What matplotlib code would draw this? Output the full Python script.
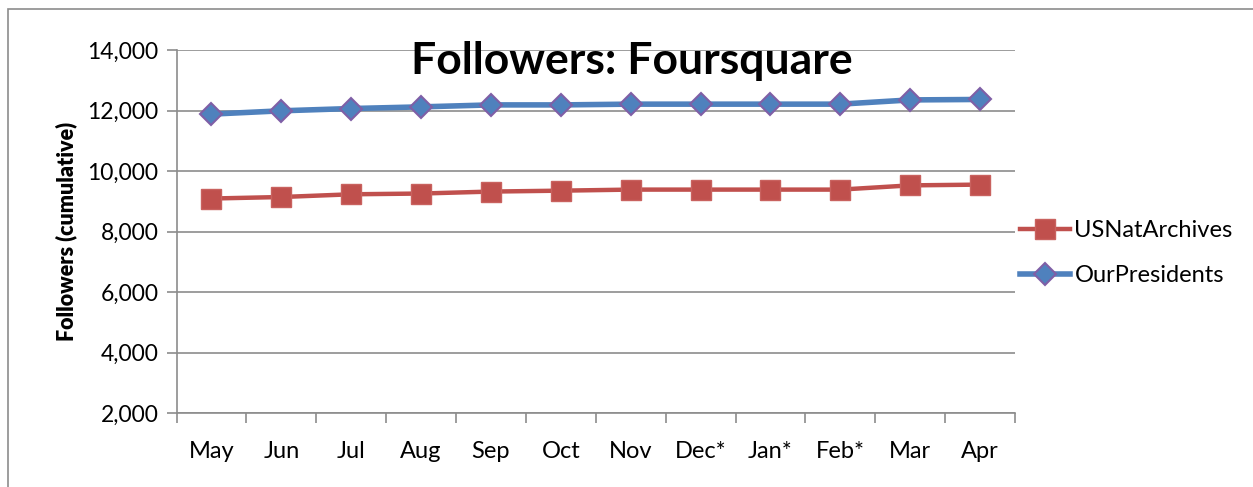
import matplotlib
matplotlib.use("Agg")
import matplotlib.pyplot as plt
from matplotlib.patches import Rectangle
from matplotlib.ticker import FuncFormatter, FixedLocator

plt.rcParams['font.family'] = ['Lato', 'DejaVu Sans']

# Data
months = ["May", "Jun", "Jul", "Aug", "Sep", "Oct", "Nov", "Dec*", "Jan*", "Feb*", "Mar", "Apr"]
nat_archives = [9090, 9140, 9230, 9255, 9320, 9350, 9385, 9385, 9385, 9385, 9525, 9550]
our_presidents = [11880, 11990, 12065, 12120, 12185, 12185, 12210, 12210, 12210, 12210, 12350, 12365]

fig = plt.figure(figsize=(12.53, 4.87), dpi=100)
# chart area border (cropped at right/bottom)
fig.patches.append(Rectangle((8 / 1253, -0.1), 1.2, 1 - 9 / 487 + 0.1,
                             transform=fig.transFigure, fill=False,
                             edgecolor="#8c8c8c", linewidth=1.2))

ax = fig.add_axes([176.5 / 1253, 1 - 413 / 487, (1015 - 176.5) / 1253, (413 - 50) / 487])

x = list(range(len(months)))
ax.plot(x, nat_archives, color="#C0504D", linewidth=3.2, marker="s", markersize=14,
        markerfacecolor="#C0504D", markeredgecolor="#C9625F", markeredgewidth=1,
        label="USNatArchives", zorder=3)
ax.plot(x, our_presidents, color="#4F81BD", linewidth=4, marker="D", markersize=11,
        markerfacecolor="#4F81BD", markeredgecolor="#7F5FA6", markeredgewidth=1.5,
        label="OurPresidents", zorder=3)

ax.set_xlim(-0.5, len(months) - 0.5)
ax.set_ylim(2000, 14000)
ax.set_yticks(range(2000, 14001, 2000))
ax.yaxis.set_major_formatter(FuncFormatter(lambda v, p: f"{int(v):,}"))
ax.set_xticks(x)
ax.set_xticklabels(months)
ax.xaxis.set_minor_locator(FixedLocator([i - 0.5 for i in range(len(months) + 1)]))
ax.tick_params(axis="x", which="major", length=0, pad=20, labelsize=17)
ax.tick_params(axis="x", which="minor", length=7, width=1.2, color="#8c8c8c")
ax.tick_params(axis="y", length=7, width=1.2, color="#8c8c8c", labelsize=16.5, pad=6)

ax.grid(axis="y", color="#8c8c8c", linewidth=1.2)
ax.set_axisbelow(True)
for s in ["top", "right"]:
    ax.spines[s].set_visible(False)
for s in ["left", "bottom"]:
    ax.spines[s].set_color("#8c8c8c")
    ax.spines[s].set_linewidth(1.2)

ax.set_ylabel("Followers (cumulative)", fontsize=15.5, fontweight="heavy", labelpad=7)
fig.text(632 / 1253, 1 - 61 / 487, "Followers: Foursquare", ha="center", va="center",
         fontsize=32, fontweight="bold")

ax.legend(loc="center left", bbox_to_anchor=(0.992, 0.44), frameon=False, fontsize=17,
          handlelength=2.1, labelspacing=1.0, handletextpad=0.2, borderpad=0)

fig.savefig("out.png", dpi=100)
